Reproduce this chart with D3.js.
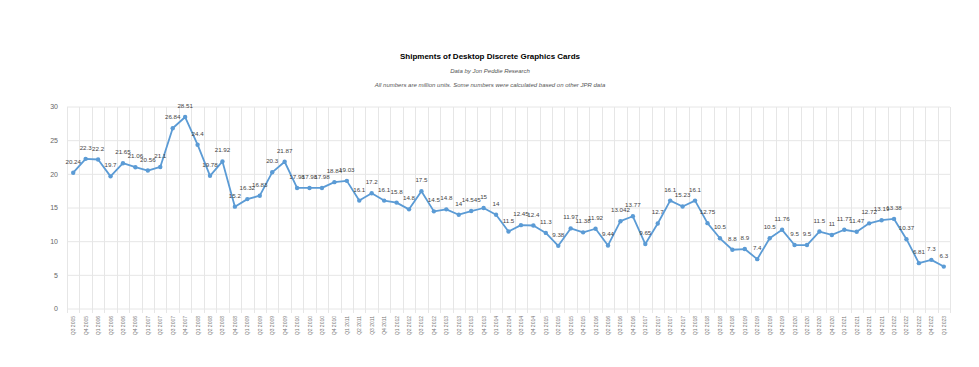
<!DOCTYPE html>
<html>
<head>
<meta charset="utf-8">
<script src="https://cdn.jsdelivr.net/npm/d3@7"></script>
<style>
  body { margin: 0; background: #fff; font-family: "Liberation Sans", Arial, sans-serif; }
</style>
</head>
<body>
<div id="chart"></div>
<script>
// quarters shown on the x axis
const quarters = [
  "Q3 2005","Q4 2005",
  "Q1 2006","Q2 2006","Q3 2006","Q4 2006",
  "Q1 2007","Q2 2007","Q3 2007","Q4 2007",
  "Q1 2008","Q2 2008","Q3 2008","Q4 2008",
  "Q1 2009","Q2 2009","Q3 2009","Q4 2009",
  "Q1 2010","Q2 2010","Q3 2010","Q4 2010",
  "Q1 2011","Q2 2011","Q3 2011","Q4 2011",
  "Q1 2012","Q2 2012","Q3 2012","Q4 2012",
  "Q1 2013","Q2 2013","Q3 2013","Q4 2013",
  "Q1 2014","Q2 2014","Q3 2014","Q4 2014",
  "Q1 2015","Q2 2015","Q3 2015","Q4 2015",
  "Q1 2016","Q2 2016","Q3 2016","Q4 2016",
  "Q1 2017","Q2 2017","Q3 2017","Q4 2017",
  "Q1 2018","Q2 2018","Q3 2018","Q4 2018",
  "Q1 2019","Q2 2019","Q3 2019","Q4 2019",
  "Q1 2020","Q2 2020","Q3 2020","Q4 2020",
  "Q1 2021","Q2 2021","Q3 2021","Q4 2021",
  "Q1 2022","Q2 2022","Q3 2022","Q4 2022",
  "Q1 2023"
];

// shipments, million units
const shipments = [
  20.24, 22.3,
  22.2, 19.7, 21.65, 21.06,
  20.56, 21.1, 26.84, 28.51,
  24.4, 19.78, 21.92, 15.2,
  16.32, 16.83, 20.3, 21.87,
  17.98, 17.98, 17.98, 18.84,
  19.03, 16.1, 17.2, 16.1,
  15.8, 14.8, 17.5, 14.5,
  14.8, 14, 14.545, 15,
  14, 11.5, 12.45, 12.4,
  11.3, 9.38, 11.97, 11.38,
  11.92, 9.44, 13.042, 13.77,
  9.65, 12.7, 16.1, 15.23,
  16.1, 12.75, 10.5, 8.8,
  8.9, 7.4, 10.5, 11.76,
  9.5, 9.5, 11.5, 11,
  11.77, 11.47, 12.72, 13.19,
  13.38, 10.37, 6.81, 7.3,
  6.3
];

const yTicks = [0, 5, 10, 15, 20, 25, 30];

const title = "Shipments of Desktop Discrete Graphics Cards";
const subtitle1 = "Data by Jon Peddie Research";
const subtitle2 = "All numbers are million units. Some numbers were calculated based on other JPR data";

const width = 979, height = 367;
const margin = { top: 107, right: 29, bottom: 58, left: 67 };

const svg = d3.select("#chart").append("svg")
    .attr("width", width)
    .attr("height", height)
    .attr("viewBox", `0 0 ${width} ${height}`);

const x = d3.scaleBand()
    .domain(quarters)
    .range([margin.left, width - margin.right]);

const y = d3.scaleLinear()
    .domain([0, 30])
    .range([height - margin.bottom, margin.top]);

// titles
svg.append("text")
    .attr("x", 490).attr("y", 59)
    .attr("text-anchor", "middle")
    .style("font-size", "8px").style("font-weight", "bold").style("fill", "#000")
    .text(title);
svg.append("text")
    .attr("x", 490).attr("y", 73)
    .attr("text-anchor", "middle")
    .style("font-size", "6px").style("font-style", "italic").style("fill", "#555")
    .text(subtitle1);
svg.append("text")
    .attr("x", 490).attr("y", 87)
    .attr("text-anchor", "middle")
    .style("font-size", "6px").style("font-style", "italic").style("fill", "#555")
    .text(subtitle2);

// grid
const grid = svg.append("g");
grid.selectAll(".hgrid")
    .data(yTicks)
    .join("line")
    .attr("x1", margin.left).attr("x2", width - margin.right)
    .attr("y1", d => y(d)).attr("y2", d => y(d))
    .attr("stroke", "#e6e6e6").attr("stroke-width", 1);

const vlines = quarters.map(q => x(q)).concat([x(quarters[quarters.length - 1]) + x.bandwidth()]);
grid.selectAll(".vgrid")
    .data(vlines)
    .join("line")
    .attr("x1", d => Math.round(d) + 0.5).attr("x2", d => Math.round(d) + 0.5)
    .attr("y1", margin.top).attr("y2", height - margin.bottom + 4)
    .attr("stroke", "#e6e6e6").attr("stroke-width", 1);

// y axis labels
svg.append("g")
    .selectAll("text")
    .data(yTicks)
    .join("text")
    .attr("x", margin.left - 9)
    .attr("y", d => y(d))
    .attr("dy", "0.35em")
    .attr("text-anchor", "end")
    .style("font-size", "7px").style("fill", "#666")
    .text(d => d);

// x axis labels, rotated
svg.append("g")
    .selectAll("text")
    .data(quarters)
    .join("text")
    .attr("transform", d => `translate(${x(d) + x.bandwidth() / 2 + 2},${height - margin.bottom + 7}) rotate(-90)`)
    .attr("text-anchor", "end")
    .style("font-size", "5px").style("fill", "#777")
    .text(d => d);

// line
const line = d3.line()
    .x((d, i) => x(quarters[i]) + x.bandwidth() / 2)
    .y(d => y(d));

svg.append("path")
    .datum(shipments)
    .attr("fill", "none")
    .attr("stroke", "#5b9bd5")
    .attr("stroke-width", 1.8)
    .attr("stroke-linejoin", "round")
    .attr("d", line);

svg.append("g")
    .selectAll("circle")
    .data(shipments)
    .join("circle")
    .attr("cx", (d, i) => x(quarters[i]) + x.bandwidth() / 2)
    .attr("cy", d => y(d))
    .attr("r", 2.2)
    .attr("fill", "#5b9bd5");

// value labels
svg.append("g")
    .selectAll("text")
    .data(shipments)
    .join("text")
    .attr("x", (d, i) => x(quarters[i]) + x.bandwidth() / 2)
    .attr("y", d => y(d) - 9)
    .attr("text-anchor", "middle")
    .style("font-size", "6.2px").style("fill", "#444")
    .text(d => d);
</script>
</body>
</html>
